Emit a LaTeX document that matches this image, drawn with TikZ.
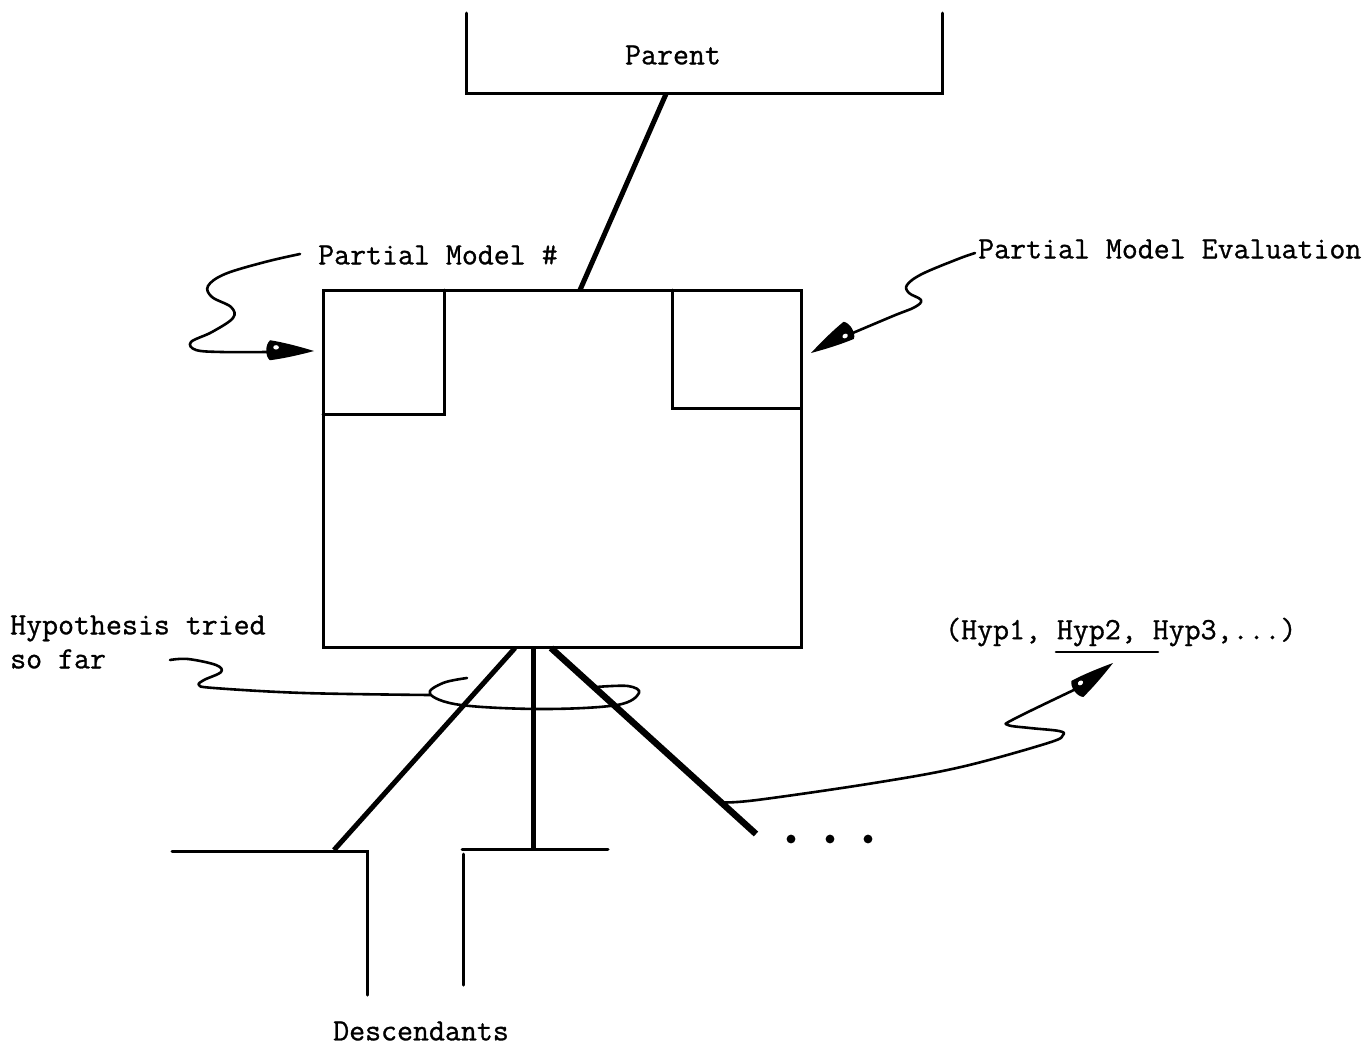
\documentclass[tikz,border=0pt]{standalone}
\usepackage{fontspec}
\usetikzlibrary{calc}
\newfontfamily\typewriter{Latin Modern Mono}[FakeBold=0.9]
\begin{document}
\begin{tikzpicture}[x=1pt,y=-1pt,
  frame/.style={line width=3pt,line cap=round,line join=miter},
  link/.style={line width=5pt},
  heavylink/.style={line width=6.5pt},
  hand/.style={line width=2.6pt,line cap=round,line join=round},
  lbl/.style={font=\fontsize{31}{34}\selectfont\typewriter,inner sep=0pt},
  quill/.pic={
    \fill (0,0) .. controls (-14,-4) and (-30,-8) .. (-44,-10)
          .. controls (-49,-6) and (-49,6) .. (-44,10)
          .. controls (-30,8) and (-14,4) .. (0,0) -- cycle;
    \fill[white] (-38,-3) ellipse [x radius=2.8pt, y radius=2.2pt];
  }]
\useasboundingbox (0,0) rectangle (1369,1045);

% parent record (open at the top)
\draw[frame] (466,13) -- (466,93) -- (942,93) -- (942,13);
\node[lbl] (parent) at (673,55) {Parent};
\coordinate (pfoot) at (666,94);

% current partial model
\node[draw,frame,minimum width=478,minimum height=357] (main) at (562,468.5) {};
\draw[frame] (444,290) -- (444,414) -- (323,414);
\draw[frame] (672,290) -- (672,408) -- (801,408);
\coordinate (mtop) at (580,290);
\draw[link] (pfoot) -- (mtop);

% descendants
\draw[frame] (172,851) -- (367,851) -- (367,995);
\draw[frame] (462,849) -- (608,849);
\draw[frame] (463,854) -- (463,985);
\node[lbl] (desc) at (421,1031) {Descendants};

\coordinate (b1) at (515,648);
\coordinate (b2) at (533,648);
\coordinate (b3) at (551,648);
\coordinate (d1) at (334,850);
\coordinate (d2) at (533,848);
\coordinate (d3) at (756,834);
\draw[link] (b1) -- (d1);
\draw[link] (b2) -- (d2);
\draw[heavylink] (b3) -- (d3);
\foreach \x in {791,830,868} \fill (\x,839) circle [radius=4.4pt];

% labels
\node[lbl,anchor=west] (pmn) at (318,255) {Partial Model \#};
\node[lbl,anchor=west] (pme) at (978,249) {Partial Model Evaluation};
\node[lbl,anchor=west,align=left] (hyp) at (10,642) {Hypothesis tried\\so far};
\node[lbl,anchor=west] (hlist) at (945,632) {(Hyp1, Hyp2, Hyp3,...)};
\draw[hand] (1056,652) -- (1158,652);

% pointer from the model number label
\coordinate (qa) at (267,352);
\draw[hand] plot[smooth,tension=0.6] coordinates {(300,254) (265,262) (225,274) (208,286) (212,297) (231,307) (233,318) (212,332) (191,342) (196,350) (222,352) (qa)};
\pic[rotate=-1] at (314,351) {quill};

% pointer from the evaluation label
\coordinate (qb) at (848,335);
\draw[hand] plot[smooth,tension=0.6] coordinates {(975,253) (958,259) (922,274) (907,285) (909,293) (921,300) (915,307) (893,316) (qb)};
\pic[rotate=211] at (811,353) {quill};

% hypotheses tried so far: ring around the branches
\draw[hand] plot[smooth,tension=0.6] coordinates {(170,660) (188,659) (216,665) (221,672) (204,680) (199,685) (214,688) (304,693) (430,695)};
\draw[hand] plot[smooth,tension=0.6] coordinates {(467,678) (443,683) (430,694) (461,705) (543,709) (617,705) (639,693) (628,686) (596,687)};

% pointer to the hypothesis list
\coordinate (hs) at ($(b3)!0.83!(d3)$);
\coordinate (qc) at (1078,688);
\draw[hand] plot[smooth,tension=0.6] coordinates {(hs) (757,800) (874,783) (961,767) (1048,743) (1063,735) (1059,731) (1030,728) (1008,725) (1014,719) (qc)};
\pic[rotate=36] at (1113,663) {quill};
\end{tikzpicture}
\end{document}
